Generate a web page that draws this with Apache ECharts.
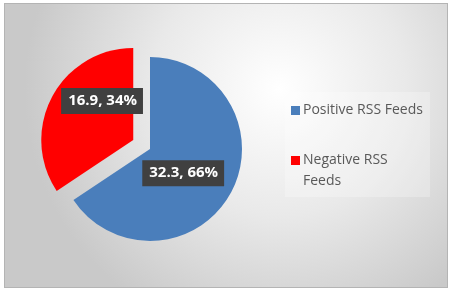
<!DOCTYPE html>
<html>
<head>
<meta charset="utf-8">
<script src="https://cdn.jsdelivr.net/npm/echarts@6/dist/echarts.min.js"></script>
<style>
  html, body { margin: 0; padding: 0; background: #fff; }
  #chart { position: absolute; left: 4px; top: 3px; width: 442px; height: 283px; border: 1px solid #b4b4b4; }
</style>
</head>
<body>
<div id="chart"></div>
<script>
// data
const names = ['Positive RSS Feeds', 'Negative RSS Feeds'];
const values = [32.3, 16.9];
const colors = ['#4a7ebb', '#ff0000'];

const chart = echarts.init(document.getElementById('chart'));

const total = values.reduce((a, b) => a + b, 0);

const option = {
  backgroundColor: {
    type: 'radial', x: 0.62, y: 0.3, r: 0.9,
    colorStops: [
      { offset: 0, color: '#ffffff' },
      { offset: 0.5, color: '#e9e9e9' },
      { offset: 1, color: '#c9c9c9' }
    ]
  },
  animation: false,
  legend: {
    orient: 'vertical',
    left: 280,
    top: 88,
    itemWidth: 9,
    itemHeight: 9,
    itemGap: 8,
    icon: 'rect',
    backgroundColor: 'rgba(255,255,255,0.25)',
    padding: [8, 4, 5, 6],
    formatter: name => '{n|' + name + '}',
    textStyle: {
      fontFamily: 'Open Sans',
      fontSize: 14,
      color: '#595959',
      width: 123,
      overflow: 'break',
      lineHeight: 21,
      padding: [0, 0, 0, -2],
      rich: { n: { fontFamily: 'Open Sans', fontSize: 14, color: '#595959', lineHeight: 21 } }
    },
    // second entry wraps; keep its marker on the first line
    data: names.map((n, i) => i === 0 ? n : { name: n, textStyle: { padding: [21, 0, 0, -2] } })
  },
  series: [{
    type: 'pie',
    center: [145, 145],
    radius: 92,
    startAngle: 90,
    clockwise: true,
    selectedMode: 'single',
    selectedOffset: 19,
    label: {
      position: 'inside',
      formatter: p => p.value + ', ' + Math.round(p.value / total * 100) + '%',
      color: '#ffffff',
      fontFamily: 'Open Sans',
      fontWeight: 'bold',
      fontSize: 15,
      backgroundColor: '#404040',
      padding: [6, 6, 5, 7]
    },
    labelLayout: function (p) {
      return p.dataIndex === 0 ? { dx: -10, dy: 1 } : { dx: 12, dy: -16 };
    },
    labelLine: { show: false },
    itemStyle: { borderWidth: 0 },
    emphasis: { disabled: true },
    data: names.map((n, i) => ({
      name: n,
      value: values[i],
      selected: i === 1,
      itemStyle: { color: colors[i] }
    }))
  }]
};

chart.setOption(option);
</script>
</body>
</html>
